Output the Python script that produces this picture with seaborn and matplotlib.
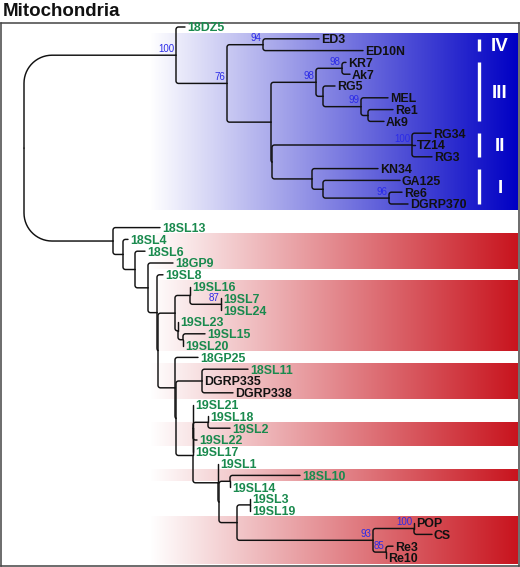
import numpy as np
import pandas as pd
import matplotlib
matplotlib.use('Agg')
import matplotlib.pyplot as plt
from matplotlib.colors import LinearSegmentedColormap
import seaborn as sns

# tree as parallel lists: node, its parent, branch length (drawing units)
node_names = ['root', 'A', '18DZ5', 'B', 'C', 'ED3', 'ED10N', 'D', 'E', 'E1', 'KR7', 'Ak7',
              'E2', 'RG5', 'E3', 'MEL', 'E4', 'Re1', 'Ak9', 'G', 'F', 'RG34', 'TZ14', 'RG3',
              'H', 'KN34', 'J', 'GA125', 'K', 'Re6', 'DGRP370',
              'L', '18SL13', 'M', '18SL4', 'N', '18SL6', 'O', '18GP9', 'P', '19SL8', 'Q',
              'R', 'R1', '19SL16', 'R1b', '19SL7', '19SL24', 'R2', '19SL23', 'R2b', '19SL15',
              '19SL20', 'S', '18GP25', 'S2', 'T', '18SL11', 'DGRP335', 'DGRP338', 'U', 'U1',
              '19SL21', 'V1', '19SL18', '19SL2', '19SL22', '19SL17', 'W', '19SL1', 'WX', 'W2',
              '18SL10', '19SL14', 'X', 'X1', '19SL3', '19SL19', 'Y', 'Z1', 'POP', 'CS', 'Z2',
              'Re3', 'Re10']
node_parents = [None, 'root', 'A', 'A', 'B', 'C', 'C', 'B', 'D', 'E', 'E1', 'E1',
                'E', 'E2', 'E2', 'E3', 'E3', 'E4', 'E4', 'D', 'G', 'F', 'F', 'F',
                'G', 'H', 'H', 'J', 'J', 'K', 'K',
                'root', 'L', 'L', 'M', 'M', 'N', 'N', 'O', 'O', 'P', 'P',
                'Q', 'R', 'R1', 'R1', 'R1b', 'R1b', 'R', 'R2', 'R2', 'R2b',
                'R2b', 'Q', 'S', 'S', 'S2', 'T', 'T', 'T', 'S2', 'U',
                'U1', 'U1', 'V1', 'V1', 'U1', 'U1', 'U', 'W', 'W', 'WX',
                'W2', 'W2', 'WX', 'X', 'X1', 'X1', 'X', 'Y', 'Z1', 'Z1', 'Y',
                'Z2', 'Z2']
branch_lengths = [0, 152, 9, 51, 36, 56, 100, 44, 45, 26, 4, 8,
                  7, 12, 38, 27, 7, 25, 16, 1, 140, 19, 3, 20,
                  40, 66, 11, 77, 66, 13, 19,
                  89, 47, 10, 5, 12, 10, 13, 25, 9, 6, 1,
                  17, 15, 0, 31, 0, 0, 3, 0, 5, 22,
                  0, 17, 23, 1, 26, 46, 0, 31, 17, 0,
                  0, 15, 0, 22, 4, 0, 25, 0, 1, 11,
                  70, 0, 18, 13, 0, 0, 136, 41, 0, 18, 13,
                  7, 0]

# bootstrap support on internal nodes
boot_nodes = ['A', 'B', 'C', 'E', 'E1', 'E3', 'F', 'K', 'R1b', 'Y', 'Z1', 'Z2']
boot_values = [100, 76, 94, 98, 98, 99, 100, 96, 87, 93, 100, 85]

# tips printed in black, the others are green
black_tips = ['ED3', 'ED10N', 'KR7', 'Ak7', 'RG5', 'MEL', 'Re1', 'Ak9', 'RG34', 'TZ14', 'RG3',
              'KN34', 'GA125', 'Re6', 'DGRP370', 'DGRP335', 'DGRP338', 'POP', 'CS', 'Re3', 'Re10']
gap_after = ['DGRP370']

# shaded bands (first tip, last tip)
blue_bands = [('ED3', 'DGRP370')]
red_bands = [('18SL4', '18GP9'), ('19SL16', '19SL20'), ('18SL11', 'DGRP338'),
             ('19SL2', '19SL22'), ('18SL10', '18SL10'), ('POP', 'Re10')]

# clade numerals
clade_names = ['IV', 'III', 'II', 'I']
clade_first = ['ED3', 'KR7', 'RG34', 'KN34']
clade_last = ['ED10N', 'Ak9', 'RG3', 'DGRP370']

# ---------------- layout ----------------
children = {n: [] for n in node_names}
for n, p in zip(node_names, node_parents):
    if p is not None:
        children[p].append(n)
blen = dict(zip(node_names, branch_lengths))

xpos, ypos = {}, {}
counter = [0]


def layout(n, depth):
    xpos[n] = depth
    if not children[n]:
        ypos[n] = counter[0]
        counter[0] += 2 if n in gap_after else 1
        return
    for c in children[n]:
        layout(c, depth + blen[c])
    ypos[n] = (ypos[children[n][0]] + ypos[children[n][-1]]) / 2


layout('root', 0)
tips = [n for n in node_names if not children[n]]

PX_PER_TIP = 11.8
rows = []
seg = 0
for n in node_names:
    r_px = 28 if n == 'root' else 2.5
    for c in children[n]:
        nx, ny, cx, cy = xpos[n], ypos[n], xpos[c], ypos[c]
        s = np.sign(cy - ny)
        rx = min(r_px, cx - nx)
        ry = min(r_px / PX_PER_TIP, abs(cy - ny))
        pts = [(nx, ny)]
        if rx > 0 and ry > 0:
            t = np.linspace(0, np.pi / 2, 16)
            pts += list(zip(nx + rx * (1 - np.cos(t)), cy - s * ry * (1 - np.sin(t))))
        else:
            pts.append((nx, cy))
        pts.append((cx, cy))
        for px, py in pts:
            rows.append({'seg': seg, 'x': px, 'y': py})
        seg += 1
edges = pd.DataFrame(rows)

# ---------------- plot ----------------
sns.set_theme(style='white')
plt.rcParams['font.family'] = ['Liberation Sans', 'DejaVu Sans']

fig = plt.figure(figsize=(5.2, 5.67), dpi=100)
ax = fig.add_axes([1 / 520, 1 / 567, 518 / 520, 543 / 567])

grad = np.linspace(0, 1, 256)[None, :]
blue_cmap = LinearSegmentedColormap.from_list('bl', ['#ffffff', '#0000c4'])
red_cmap = LinearSegmentedColormap.from_list('rd', ['#ffffff', '#c8141e'])
gx0, gx1 = 126, 494
for bands, cmap in [(blue_bands, blue_cmap), (red_bands, red_cmap)]:
    for a, b in bands:
        ax.imshow(grad, extent=(gx0, gx1, ypos[b] + 0.5, ypos[a] - 0.5),
                  aspect='auto', cmap=cmap, zorder=0, interpolation='bilinear')

sns.lineplot(data=edges, x='x', y='y', units='seg', estimator=None, sort=False,
             color='#111111', lw=1.05, ax=ax, legend=False, zorder=2)

for t in tips:
    col = '#111111' if t in black_tips else '#1a8a4e'
    ax.text(xpos[t] + 2, ypos[t] + 0.38, t, fontsize=8.9, fontweight='bold',
            color=col, ha='left', va='baseline', zorder=3)

for n, v in zip(boot_nodes, boot_values):
    ax.text(xpos[n] - 1.5, ypos[n] - 0.28, str(v), fontsize=7, color='#2b2be8',
            ha='right', va='baseline', zorder=3)

for name, a, b in zip(clade_names, clade_first, clade_last):
    ax.plot([455, 455], [ypos[a], ypos[b]], color='white', lw=2.4,
            solid_capstyle='butt', zorder=3)
    ax.text(476, (ypos[a] + ypos[b]) / 2 + 0.55, name, fontsize=13.5, fontweight='bold',
            color='white', ha='center', va='baseline', zorder=3)

ax.set_xlim(-23, 495)
ax.set_ylim((566 - 27) / PX_PER_TIP, (23 - 27) / PX_PER_TIP)
ax.set_xticks([])
ax.set_yticks([])
ax.set_xlabel('')
ax.set_ylabel('')
for sp in ax.spines.values():
    sp.set_visible(True)
    sp.set_color('#444444')
    sp.set_linewidth(1.1)

fig.text(3 / 520, 1 - 16 / 567, 'Mitochondria', fontsize=13.5, fontweight='bold',
         color='#111111', ha='left', va='baseline')

fig.savefig('out.png', dpi=100)
